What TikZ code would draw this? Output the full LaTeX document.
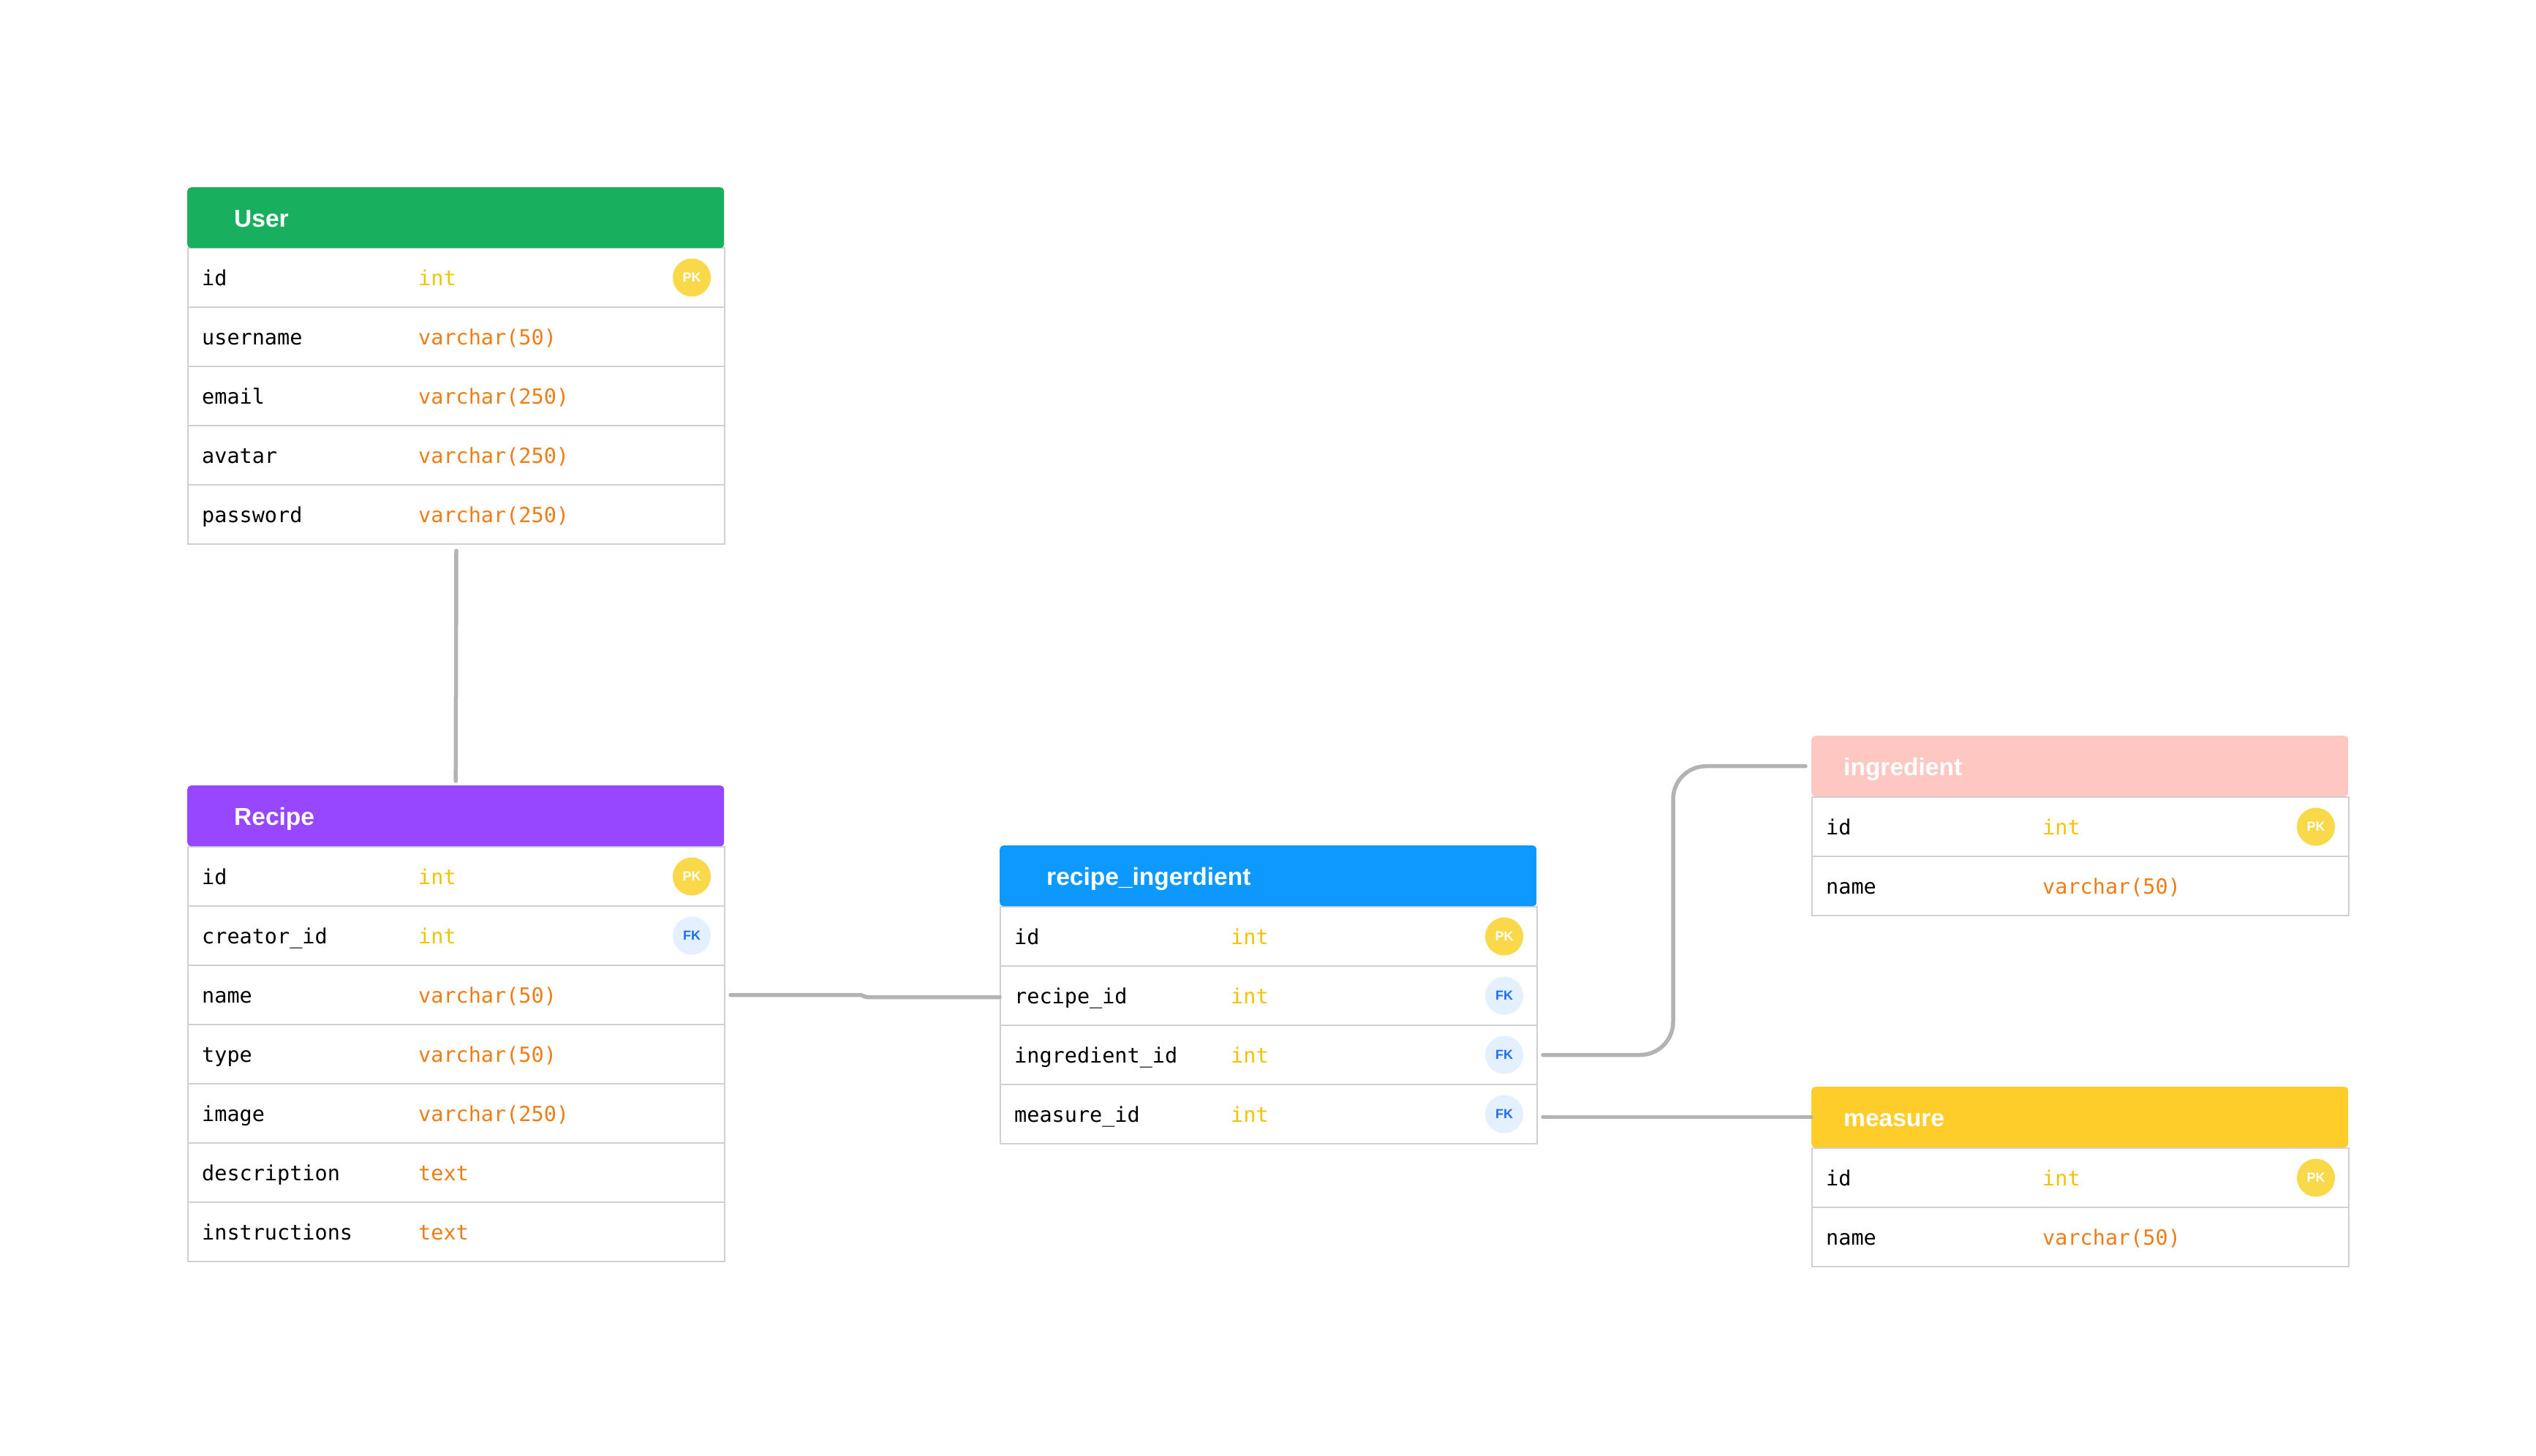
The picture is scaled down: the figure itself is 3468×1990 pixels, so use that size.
\documentclass[tikz,border=0pt]{standalone}
\usepackage{fontspec}
\newfontfamily\erMono{DejaVu Sans Mono}
\newfontfamily\erSans{Liberation Sans}
\definecolor{cUser}{HTML}{18AF5F}
\definecolor{cRecipe}{HTML}{9747FF}
\definecolor{cRI}{HTML}{0D99FF}
\definecolor{cIng}{HTML}{FFC7C2}
\definecolor{cMeas}{HTML}{FFCD29}
\definecolor{cInt}{HTML}{F4C300}
\definecolor{cStr}{HTML}{EF7D16}
\definecolor{cPK}{HTML}{F9D84A}
\definecolor{cFKfill}{HTML}{E5F0FF}
\definecolor{cFKtext}{HTML}{1E6FF0}
\definecolor{cRowLine}{HTML}{D0D0D0}
\definecolor{cConn}{HTML}{B3B3B3}
\tikzset{
  hdr/.style={rectangle, rounded corners=5pt, minimum width=734pt, minimum height=83pt, anchor=north west, inner sep=0pt},
  htext/.style={anchor=base west, inner sep=0pt, text=white, font=\erSans\bfseries\fontsize{33.5}{40}\selectfont},
  rowbox/.style={rectangle, draw=cRowLine, line width=2pt, fill=white, minimum width=734pt, minimum height=81pt, anchor=north west, inner sep=0pt},
  fname/.style={anchor=base west, inner sep=0pt, text=black, font=\erMono\fontsize{28.5}{34}\selectfont},
  tint/.style={fname, text=cInt},
  tstr/.style={fname, text=cStr},
  pk/.style={circle, fill=cPK, minimum size=52pt, inner sep=0pt, text=white, font=\erSans\bfseries\fontsize{18}{20}\selectfont},
  fk/.style={pk, fill=cFKfill, text=cFKtext},
  conn/.style={draw=cConn, line width=5.5pt, line cap=round, line join=round}
}
\newcommand\erHead[5]{%
  \node[hdr, fill=#3] (#1) at (#2) {};
  \node[htext] (#1-t) at ([xshift=#4, yshift=-13pt]#1.west) {#5};
}
\newcommand\erRow[5]{%
  \node[rowbox] (#1) at (#2) {};
  \node[fname] (#1-n) at ([xshift=20pt, yshift=-10.5pt]#1.west) {#3};
  \node[#4] (#1-t) at ([xshift=316pt, yshift=-10.5pt]#1.west) {#5};
}
\begin{document}
\begin{tikzpicture}[x=1pt, y=-1pt]
\useasboundingbox[fill=white] (0,0) rectangle (3468,1990);

% User
\erRow{user-r1}{256,338}{id}{tint}{int}
\erRow{user-r2}{256,419}{username}{tstr}{varchar(50)}
\erRow{user-r3}{256,500}{email}{tstr}{varchar(250)}
\erRow{user-r4}{256,581}{avatar}{tstr}{varchar(250)}
\erRow{user-r5}{256,662}{password}{tstr}{varchar(250)}
\erHead{user-h}{256,256}{cUser}{64pt}{User}
\node[pk] (user-r1-b) at ([xshift=-46pt]user-r1.east) {PK};

% Recipe
\erRow{rec-r1}{256,1157}{id}{tint}{int}
\erRow{rec-r2}{256,1238}{creator\_id}{tint}{int}
\erRow{rec-r3}{256,1319}{name}{tstr}{varchar(50)}
\erRow{rec-r4}{256,1400}{type}{tstr}{varchar(50)}
\erRow{rec-r5}{256,1481}{image}{tstr}{varchar(250)}
\erRow{rec-r6}{256,1562}{description}{tstr}{text}
\erRow{rec-r7}{256,1643}{instructions}{tstr}{text}
\erHead{rec-h}{256,1074}{cRecipe}{64pt}{Recipe}
\node[pk] (rec-r1-b) at ([xshift=-46pt]rec-r1.east) {PK};
\node[fk] (rec-r2-b) at ([xshift=-46pt]rec-r2.east) {FK};

% recipe_ingerdient
\erRow{ri-r1}{1367,1239}{id}{tint}{int}
\erRow{ri-r2}{1367,1320}{recipe\_id}{tint}{int}
\erRow{ri-r3}{1367,1401}{ingredient\_id}{tint}{int}
\erRow{ri-r4}{1367,1482}{measure\_id}{tint}{int}
\erHead{ri-h}{1367,1156}{cRI}{64pt}{recipe\_ingerdient}
\node[pk] (ri-r1-b) at ([xshift=-46pt]ri-r1.east) {PK};
\node[fk] (ri-r2-b) at ([xshift=-46pt]ri-r2.east) {FK};
\node[fk] (ri-r3-b) at ([xshift=-46pt]ri-r3.east) {FK};
\node[fk] (ri-r4-b) at ([xshift=-46pt]ri-r4.east) {FK};

% ingredient
\erRow{ing-r1}{2477,1089}{id}{tint}{int}
\erRow{ing-r2}{2477,1170}{name}{tstr}{varchar(50)}
\erHead{ing-h}{2477,1006}{cIng}{44pt}{ingredient}
\node[pk] (ing-r1-b) at ([xshift=-46pt]ing-r1.east) {PK};

% measure
\erRow{meas-r1}{2477,1569}{id}{tint}{int}
\erRow{meas-r2}{2477,1650}{name}{tstr}{varchar(50)}
\erHead{meas-h}{2477,1486}{cMeas}{44pt}{measure}
\node[pk] (meas-r1-b) at ([xshift=-46pt]meas-r1.east) {PK};

% connectors
\coordinate (ibend) at (2288,0);
\draw[conn] ([yshift=-8pt]user-r5.south) -- ([yshift=6pt]rec-h.north);
\draw[conn] ([xshift=7pt]rec-r3.east) -- ++(178,0) to[out=0, in=180] ++(8,3) -- ([yshift=-2pt]ri-r2.west);
\draw[conn, rounded corners=45pt] ([xshift=7pt]ri-r3.east) -| (ibend |- ing-h.west) -- ([xshift=-8pt]ing-h.west);
\draw[conn] ([xshift=7pt]ri-r4.east |- meas-h.west) -- (meas-h.west);
\end{tikzpicture}
\end{document}
